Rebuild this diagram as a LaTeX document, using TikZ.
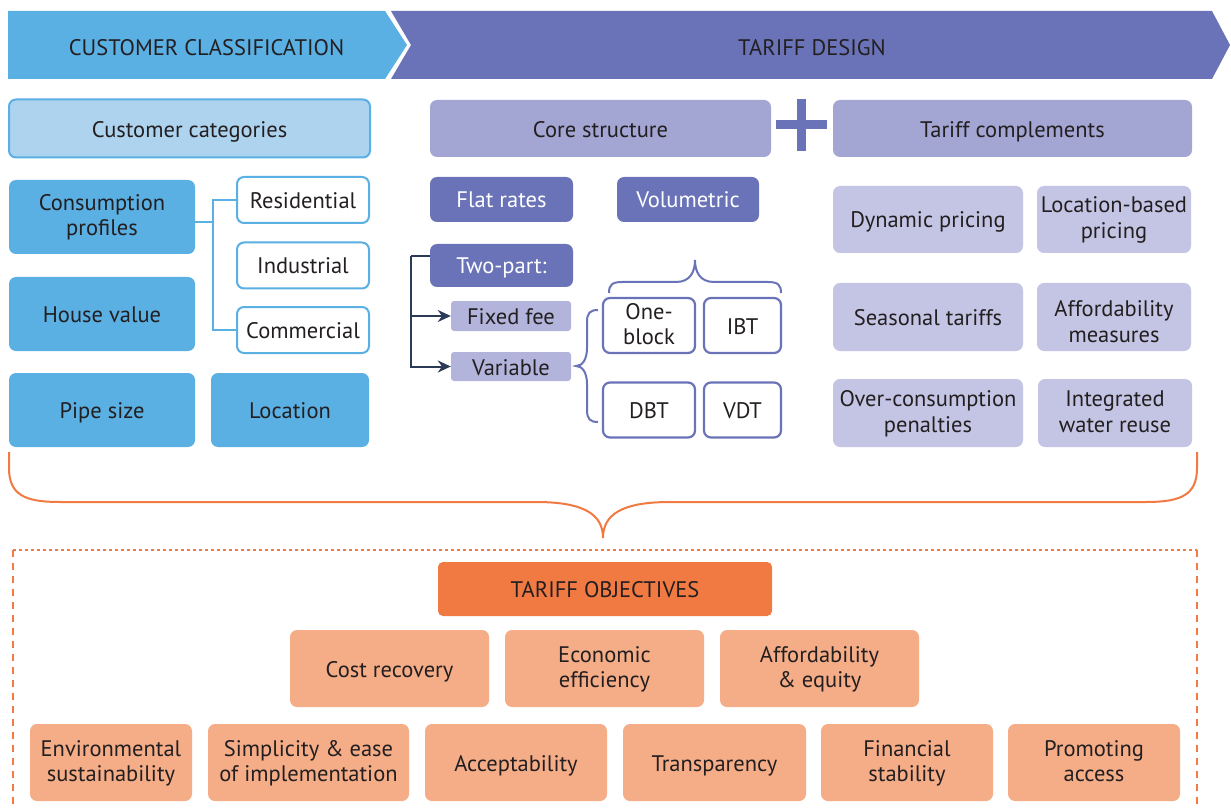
\documentclass[tikz,border=0pt]{standalone}
\usepackage{fontspec}
\setmainfont{PT Sans}
\usetikzlibrary{arrows.meta,calc}

\definecolor{ink}{HTML}{231F20}
\definecolor{bandblue}{HTML}{5AAFE3}
\definecolor{bandpurple}{HTML}{6A73B8}
\definecolor{catfill}{HTML}{AED3EF}
\definecolor{corefill}{HTML}{A3A5D3}
\definecolor{partfill}{HTML}{B2B4DC}
\definecolor{complfill}{HTML}{C4C5E4}
\definecolor{objdark}{HTML}{F07A42}
\definecolor{objfill}{HTML}{F5AD88}
\definecolor{navyline}{HTML}{2B3A57}

\newcommand\boxfont{\fontsize{22.5}{25.5}\selectfont}

\tikzset{
  box/.style={rectangle, rounded corners=7pt, inner sep=0pt, align=center,
              font=\boxfont, text=ink},
  % fixed text box sizes keep baselines at the same place in every box
  oneline/.style={text height=17pt, text depth=0pt},
  twoline/.style={text height=42pt, text depth=4pt},
  catbox/.style={box, fill=catfill, draw=bandblue, line width=2pt},
  headbox/.style={box, fill=corefill},
  complbox/.style={box, fill=complfill},
  bluebox/.style={box, fill=bandblue},
  classbox/.style={box, fill=white, draw=bandblue, line width=2pt},
  darkbox/.style={box, fill=bandpurple, text=white},
  partbox/.style={box, fill=partfill, rounded corners=3pt},
  blockbox/.style={box, fill=white, draw=bandpurple, line width=2.2pt},
  objtitle/.style={box, fill=objdark, rounded corners=5pt},
  objbox/.style={box, fill=objfill},
  bandtext/.style={font=\boxfont, text=ink, inner sep=0pt, text height=18pt, text depth=0pt},
  blueconn/.style={draw=bandblue, line width=2pt},
  navyconn/.style={draw=navyline, line width=2pt},
  navyarrow/.style={navyconn, -{Stealth[length=13pt,width=12pt]}},
  purplebrace/.style={draw=bandpurple, line width=2pt},
  orangebrace/.style={draw=objdark, line width=2pt},
}

\begin{document}
\begin{tikzpicture}[x=1pt,y=-1pt]
\clip (0,0) rectangle (1231,810);
\fill[white] (0,0) rectangle (1231,810);

% ---- process banners ----
\fill[bandblue] (8,11) -- (385,11) -- (407,45) -- (385,79) -- (8,79) -- cycle;
\fill[bandpurple] (391,11) -- (1212,11) -- (1230,45) -- (1212,79) -- (391,79) -- (411,45) -- cycle;
\node[bandtext] (bandL) at (206.5,47) {CUSTOMER CLASSIFICATION};
\node[bandtext] (bandR) at (812,47) {TARIFF DESIGN};

% ---- headers ----
\node[catbox, oneline, text height=19pt, minimum width=361, minimum height=58] (custcat) at (189.5,128.5) {Customer categories};
\node[headbox, oneline, text height=19pt, minimum width=341, minimum height=57] (core) at (600.5,128.5) {Core structure};
\node[headbox, oneline, text height=19pt, minimum width=359, minimum height=57] (compl) at (1012.5,128.5) {Tariff complements};
\fill[bandpurple] (776,120) rectangle (827,129);
\fill[bandpurple] (797,99) rectangle (806,151);

% ---- customer classification ----
\node[bluebox, twoline, minimum width=186, minimum height=74] (cons) at (102,217) {Consumption\\profiles};
\node[bluebox, oneline, minimum width=186, minimum height=74] (house) at (102,314) {House value};
\node[bluebox, oneline, minimum width=186, minimum height=74] (pipe) at (102,410) {Pipe size};
\node[bluebox, oneline, minimum width=158, minimum height=74] (loc) at (290,410) {Location};
\node[classbox, oneline, minimum width=132, minimum height=46] (resid) at (303,200) {Residential};
\node[classbox, oneline, minimum width=132, minimum height=46] (indus) at (303,265.5) {Industrial};
\node[classbox, oneline, minimum width=132, minimum height=46] (comm) at (303,330) {Commercial};

\coordinate (bj) at (213,222);
\draw[blueconn] ($(cons.east)+(0,5)$) -- (bj);
\draw[blueconn] (resid.west) -| (bj) |- (comm.west);

% ---- core structure ----
\node[darkbox, oneline, minimum width=143, minimum height=45] (flat) at (501.5,199.5) {Flat rates};
\node[darkbox, oneline, minimum width=142, minimum height=45] (vol) at (688,199.5) {Volumetric};
\node[darkbox, oneline, minimum width=143, minimum height=43] (two) at (501.5,265.5) {Two-part:};
\node[partbox, oneline, minimum width=120, minimum height=30] (fixed) at (511,316) {Fixed fee};
\node[partbox, oneline, minimum width=120, minimum height=29] (var) at (511,366.5) {Variable};

\coordinate (tp) at (411,256);
\draw[navyconn] ($(two.west)+(0,-9.5)$) -- (tp);
\draw[navyarrow] (tp) |- (fixed.west);
\draw[navyarrow] (tp) |- (var.west);

\node[blockbox, twoline, minimum width=92, minimum height=55] (oneb) at (649,325.5) {One-\\block};
\node[blockbox, oneline, minimum width=77, minimum height=55] (ibt) at (742.5,325.5) {IBT};
\node[blockbox, oneline, minimum width=92, minimum height=55] (dbt) at (649,410) {DBT};
\node[blockbox, oneline, minimum width=77, minimum height=55] (vdt) at (742.5,410) {VDT};

% brace over the block tariffs
\draw[purplebrace] (609,293) .. controls (609,285) and (612,282) .. (622,282)
  -- (676,282) .. controls (690,282) and (695,272) .. (695,260)
  .. controls (695,272) and (700,282) .. (714,282)
  -- (768,282) .. controls (778,282) and (781,285) .. (781,293);
% brace beside the variable charge
\draw[purplebrace] (598,310) .. controls (590,310) and (587,313) .. (587,322)
  -- (587,348) .. controls (587,360) and (582,366) .. (576,366)
  .. controls (582,366) and (587,372) .. (587,384)
  -- (587,410) .. controls (587,419) and (590,422) .. (598,422);

% ---- tariff complements ----
\node[complbox, oneline, minimum width=190, minimum height=67] (dyn) at (928,219.5) {Dynamic pricing};
\node[complbox, twoline, minimum width=154, minimum height=67] (locb) at (1114,219.5) {Location-based\\pricing};
\node[complbox, oneline, minimum width=190, minimum height=68] (seas) at (928,317) {Seasonal tariffs};
\node[complbox, twoline, text height=50pt, text depth=0pt, minimum width=154, minimum height=68] (affm) at (1114,317) {Affordability\\measures};
\node[complbox, twoline, minimum width=190, minimum height=68] (over) at (928,413) {Over-consumption\\penalties};
\node[complbox, twoline, minimum width=154, minimum height=68] (integ) at (1115,413) {Integrated\\water reuse};

% ---- brace gathering everything into the objectives ----
\draw[orangebrace] (9,452) -- (9,468) .. controls (9,495) and (25,502) .. (60,502)
  -- (536,502) .. controls (585,502) and (603,515) .. (603,538)
  .. controls (603,515) and (621,502) .. (670,502)
  -- (1146,502) .. controls (1181,502) and (1197,495) .. (1197,468) -- (1197,452);

% ---- objectives frame ----
\draw[draw=objdark, line width=2pt, dash pattern=on 3pt off 3pt] (13,550) -- (1197,550);
\draw[draw=objdark, line width=2pt, dash pattern=on 7pt off 6pt] (13,550) -- (13,830);
\draw[draw=objdark, line width=2pt, dash pattern=on 7pt off 6pt] (1197,550) -- (1197,830);

\node[objtitle, oneline, minimum width=334, minimum height=54] (objt) at (605,589) {TARIFF OBJECTIVES};

\node[objbox, oneline, minimum width=199, minimum height=77] (cost) at (389.5,668.5) {Cost recovery};
\node[objbox, twoline, minimum width=199, minimum height=77] (econ) at (604.5,668.5) {Economic\\efficiency};
\node[objbox, twoline, minimum width=199, minimum height=77] (affeq) at (819.5,668.5) {Affordability\\\& equity};

\node[objbox, twoline, minimum width=162, minimum height=77] (env) at (111,762.5) {Environmental\\sustainability};
\node[objbox, twoline, minimum width=201, minimum height=77] (simp) at (308.5,762.5) {Simplicity \& ease\\of implementation};
\node[objbox, oneline, minimum width=182, minimum height=77] (acc) at (516,762.5) {Acceptability};
\node[objbox, oneline, minimum width=183, minimum height=77] (trans) at (714.5,762.5) {Transparency};
\node[objbox, twoline, minimum width=172, minimum height=77] (fin) at (907,762.5) {Financial\\stability};
\node[objbox, twoline, minimum width=172, minimum height=77] (prom) at (1094,762.5) {Promoting\\access};
\end{tikzpicture}
\end{document}
